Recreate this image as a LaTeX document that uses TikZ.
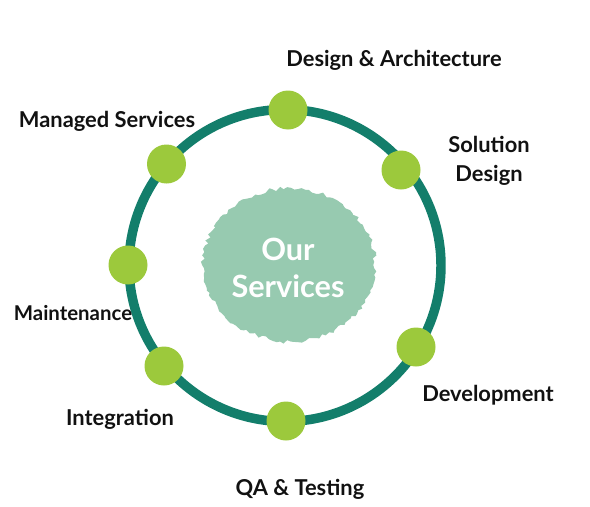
\documentclass[tikz,border=0pt]{standalone}
\usepackage{fontspec}
\setmainfont{Lato}
\definecolor{ringc}{HTML}{137E6B}
\definecolor{dotc}{HTML}{9CC93C}
\definecolor{blobc}{HTML}{97CAB0}
\definecolor{txt}{HTML}{111111}
\begin{document}
\begin{tikzpicture}[x=0.75pt,y=-0.75pt,
  lbl/.style={font=\bfseries\fontsize{16.4}{21.75}\selectfont, text=txt, align=center, inner sep=0},
  dotn/.style={circle, fill=dotc, minimum size=29.25pt, inner sep=0},
  ringn/.style={circle, draw=ringc, line width=7.1pt, minimum size=234pt, inner sep=0}]
\useasboundingbox (0,0) rectangle (590,507);
% ring
\node[ringn] (ring) at (285,265.5) {};
% blob
\pgfmathsetseed{5}
\fill[blobc] plot[variable=\t, samples=150, domain=0:357.6]
  ({289+(84+5*rnd)*cos(\t)}, {265+(74+5*rnd)*sin(\t)}) -- cycle;
\node[font=\bfseries\fontsize{23}{27.75}\selectfont, text=white, align=center] (center) at (288,268) {Our\\Services};
% dots
\node[dotn] (d1) at (288,110) {};
\node[dotn] (d2) at (401,170) {};
\node[dotn] (d3) at (416,347) {};
\node[dotn] (d4) at (286,421) {};
\node[dotn] (d5) at (164,366) {};
\node[dotn] (d6) at (128,265) {};
\node[dotn] (d7) at (166.5,164) {};
% labels
\node[lbl] (l1) at (394,60) {Design \& Architecture};
\node[lbl] (l2) at (489,161) {Solution\\Design};
\node[lbl] (l3) at (488,395) {Development};
\node[lbl] (l4) at (300,489) {QA \& Testing};
\node[lbl] (l5) at (120,419) {Integration};
\node[lbl, font=\bfseries\fontsize{15.3}{20}\selectfont] (l6) at (73,313) {Maintenance};
\node[lbl] (l7) at (107,121) {Managed Services};
\end{tikzpicture}
\end{document}
